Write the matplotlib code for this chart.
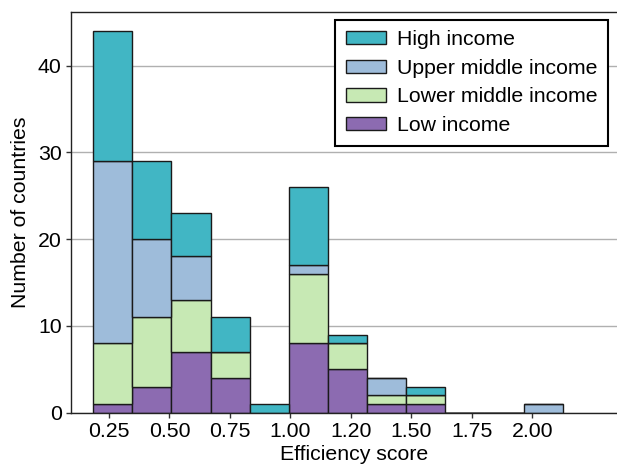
import numpy as np
import matplotlib
matplotlib.use("Agg")
import matplotlib.pyplot as plt

plt.rcParams['font.family'] = ['Liberation Sans', 'DejaVu Sans']

# counts per efficiency-score bin, one list per income group
bin_range = (0.185, 2.125)
n_bins = 12
low_income = [1, 3, 7, 4, 0, 8, 5, 1, 1, 0, 0, 0]
lower_middle = [7, 8, 6, 3, 0, 8, 3, 1, 1, 0, 0, 0]
upper_middle = [21, 9, 5, 0, 0, 1, 0, 2, 0, 0, 0, 1]
high_income = [15, 9, 5, 4, 1, 9, 1, 0, 1, 0, 0, 0]

groups = ['Low income', 'Lower middle income', 'Upper middle income', 'High income']
colors = ['#8c6bb1', '#c7e9b4', '#9ebcda', '#41b6c4']

tick_pos = [0.25, 0.50, 0.75, 1.00, 1.25, 1.50, 1.75, 2.00]
tick_labels = ['0.25', '0.50', '0.75', '1.00', '1.20', '1.50', '1.75', '2.00']

edges = np.linspace(bin_range[0], bin_range[1], n_bins + 1)
centers = (edges[:-1] + edges[1:]) / 2

FS = 15.3

fig = plt.figure(figsize=(6.17, 4.72), dpi=100)
ax = fig.add_axes([0.1146, 0.1256, 0.92, 0.8496])

ax.hist([centers] * 4, bins=edges,
        weights=[low_income, lower_middle, upper_middle, high_income],
        stacked=True, color=colors, label=groups,
        edgecolor='#1a1a1a', linewidth=1.0, zorder=2)

ax.set_xlim(0.092, 0.092 + 0.92 * 6.17 * 100 / 242)
ax.set_ylim(0, 46.2)
ax.set_yticks([0, 10, 20, 30, 40])
ax.set_xticks(tick_pos)
ax.set_xticklabels(tick_labels)
ax.tick_params(labelsize=FS, direction='out', length=3.5, width=1, color='#333333', pad=3)
ax.yaxis.grid(True, color='#b0b0b0', linewidth=1, zorder=0)
ax.set_axisbelow(True)
for side in ['left', 'bottom', 'top', 'right']:
    ax.spines[side].set_color('#222222')
    ax.spines[side].set_linewidth(1)

ax.set_xlabel('Efficiency score', fontsize=FS, labelpad=3)
ax.set_ylabel('Number of countries', fontsize=FS, labelpad=6)

handles, labels = ax.get_legend_handles_labels()
leg = fig.legend(handles[::-1], labels[::-1], loc='upper right',
                 bbox_to_anchor=(608.3 / 617, 1 - 19.7 / 472),
                 fontsize=FS, frameon=True, fancybox=False,
                 edgecolor='black', framealpha=1,
                 handlelength=1.9, handleheight=0.58, handletextpad=0.5,
                 labelspacing=0.45, borderpad=0.5, borderaxespad=0)
leg.get_frame().set_linewidth(1.5)

fig.savefig('out.png', dpi=100)
